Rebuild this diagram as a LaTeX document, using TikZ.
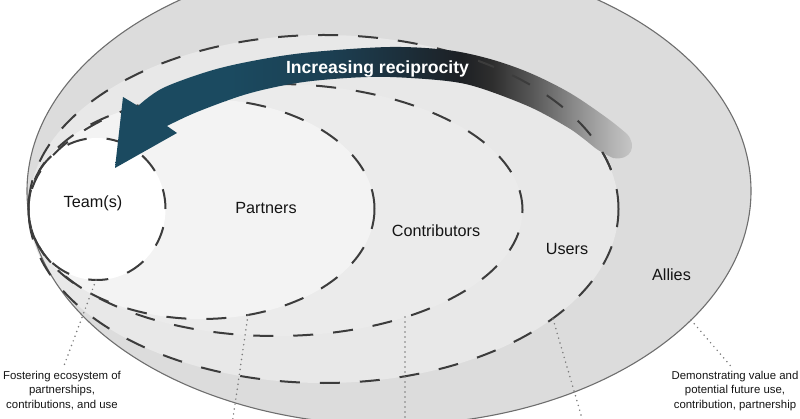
\documentclass[tikz,border=0pt]{standalone}
\usepackage{fontspec}
\setmainfont{Liberation Sans}
\definecolor{allies}{HTML}{DCDCDC}
\definecolor{usersf}{HTML}{E8E8E8}
\definecolor{contf}{HTML}{EBEBEB}
\definecolor{partf}{HTML}{F3F3F3}
\definecolor{outl}{HTML}{6E6E6E}
\definecolor{dashgray}{HTML}{3C3C3C}
\definecolor{dotgray}{HTML}{7C7C7C}
\definecolor{txt}{HTML}{141414}
\definecolor{sA}{HTML}{1B4A60}
\definecolor{sB}{HTML}{1C3F52}
\definecolor{sC}{HTML}{1C2F3B}
\definecolor{sD}{HTML}{1D2024}
\definecolor{sE}{HTML}{2E2E2E}
\definecolor{sF}{HTML}{585858}
\definecolor{sG}{HTML}{888888}
\definecolor{sH}{HTML}{B4B4B4}
\definecolor{sI}{HTML}{CACACA}
\pgfdeclarehorizontalshading{arrowshade}{100bp}{color(0bp)=(sA); color(36bp)=(sA); color(45.7bp)=(sB); color(52.5bp)=(sC); color(58.2bp)=(sD); color(61.1bp)=(sE); color(65bp)=(sF); color(68.8bp)=(sG); color(72.7bp)=(sH); color(75bp)=(sI); color(100bp)=(sI)}
\begin{document}
\begin{tikzpicture}[x=1pt,y=-1pt,
  dashline/.style={draw=dashgray, line width=2pt, dash pattern=on 20pt off 20pt},
  outline/.style={draw=outl, line width=1.1pt},
  lbl/.style={font=\fontsize{16.2}{19}\selectfont, text=txt, inner sep=0pt, anchor=base},
  note/.style={font=\fontsize{11.4}{14.3}\selectfont, text=txt, align=center, inner sep=0pt, anchor=north},
  leader/.style={draw=dotgray, line width=1.7pt, line cap=round, dash pattern=on 0pt off 5pt}]
\useasboundingbox (0,0) rectangle (800,419);
\clip (0,0) rectangle (800,419);
% region fills
\fill[allies] (389,191) ellipse [x radius=362pt, y radius=234pt];
\fill[usersf] (323.5,209) ellipse [x radius=295pt, y radius=174pt];
\fill[contf] (275.5,210) ellipse [x radius=247pt, y radius=126pt];
\fill[partf] (201.5,209) ellipse [x radius=173pt, y radius=110pt];
\fill[white] (97,209) ellipse [x radius=68.5pt, y radius=71pt];
% outlines
\draw[outline] (389,191) ellipse [x radius=362pt, y radius=234pt];
\draw[dashline] (323.5,209) ellipse [x radius=295pt, y radius=174pt];
\draw[dashline] (275.5,210) ellipse [x radius=247pt, y radius=126pt];
\draw[dashline] (201.5,209) ellipse [x radius=173pt, y radius=110pt];
\draw[dashline] (97,209) ellipse [x radius=68.5pt, y radius=71pt];
% labels
\node[lbl] (team) at (93,208) {Team(s)};
\node[lbl] (partners) at (266,213.5) {Partners};
\node[lbl] (contributors) at (436,237) {Contributors};
\node[lbl] (users) at (567,255) {Users};
\node[lbl] (allieslbl) at (671.5,281) {Allies};
\node[note] (fost) at (62,371) {Fostering ecosystem of\\partnerships,\\contributions, and use};
\node[note] (demo) at (735,371) {Demonstrating value and\\potential future use,\\contribution, partnership};
% leader anchors
\coordinate (teamfoot) at (96,280);
\coordinate (partfoot) at (248,315);
\coordinate (partend) at (232,425);
\coordinate (contfoot) at (405,317);
\coordinate (contend) at (405,425);
\coordinate (userfoot) at (553,319);
\coordinate (userend) at (584,425);
\coordinate (allyfoot) at (691,320);
\draw[leader, shorten >=5pt] (teamfoot) -- (fost.north);
\draw[leader] (partfoot) -- (partend);
\draw[leader] (contfoot) -- (contend);
\draw[leader] (userfoot) -- (userend);
\draw[leader, shorten >=5pt] (allyfoot) -- (demo.north);
% arrow
\shade[shading=arrowshade] (123,97) -- (138,106)
  -- plot[smooth, tension=0.55] coordinates {(138,106) (163,88) (213,70) (263,59) (313,52) (390,47) (447,50) (490,59) (530,73) (570,93) (607,118) (627,134)}
  .. controls (637,145) and (632,161) .. (613,158)
  -- plot[smooth, tension=0.55] coordinates {(613,158) (598,150) (584,139) (567,127) (530,107) (480,88) (447,81) (390,77) (347,78) (297,83) (247,94) (197,112) (167,126)}
  -- (177,133) -- (115,168) -- cycle;
\begin{scope}
\clip (478,0) rectangle (645,175);
\draw[dashline] (323.5,209) ellipse [x radius=295pt, y radius=174pt];
\end{scope}
\node[font=\bfseries\fontsize{17.6}{20}\selectfont, text=white, anchor=base, inner sep=0pt] (recip) at (377.5,73.5) {Increasing reciprocity};
\end{tikzpicture}
\end{document}
